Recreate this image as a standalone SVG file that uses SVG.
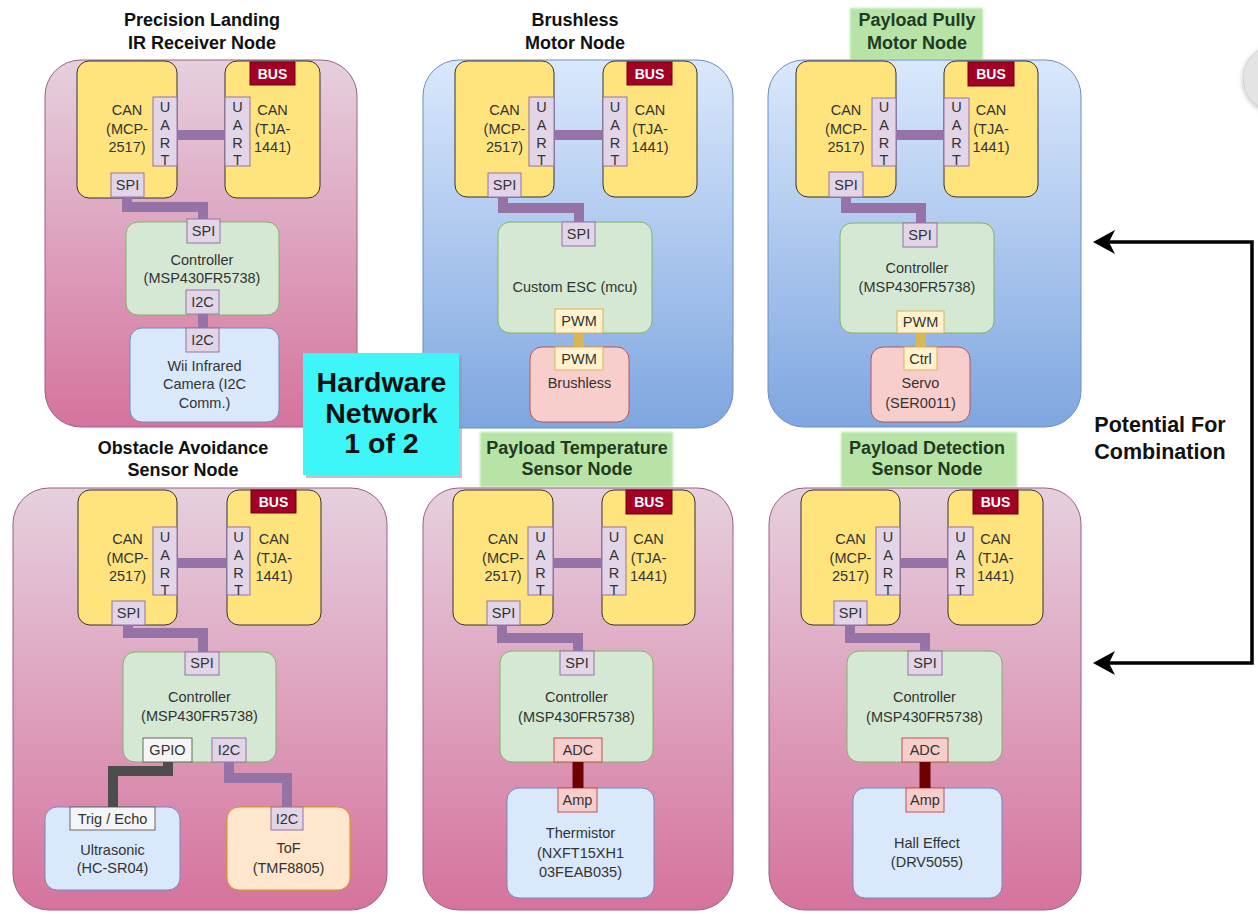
<svg xmlns="http://www.w3.org/2000/svg" width="1258" height="914" viewBox="0 0 1258 914">
  <defs>
    <linearGradient id="gPink" x1="0" y1="0" x2="0" y2="1">
      <stop offset="0" stop-color="#e6d0de"/>
      <stop offset="1" stop-color="#d5739d"/>
    </linearGradient>
    <linearGradient id="gBlue" x1="0" y1="0" x2="0" y2="1">
      <stop offset="0" stop-color="#dae8fc"/>
      <stop offset="1" stop-color="#7ea6e0"/>
    </linearGradient>
    <filter id="soft" x="-10%" y="-10%" width="120%" height="120%">
      <feGaussianBlur stdDeviation="1.2"/>
    </filter>
    <filter id="dropShadow" x="-30%" y="-30%" width="160%" height="160%">
      <feDropShadow dx="0" dy="2" stdDeviation="2.5" flood-color="#000" flood-opacity="0.25"/>
    </filter>
    <marker id="arrowHead" markerUnits="userSpaceOnUse" markerWidth="26" markerHeight="26" viewBox="0 0 26 26" refX="12" refY="13" orient="auto-start-reverse">
      <path d="M2,1 L24,13 L2,25 L8,13 Z" fill="#000"/>
    </marker>
    <style>
      .outerPink { fill: url(#gPink); stroke: #996185; stroke-width: 1; }
      .outerBlue { fill: url(#gBlue); stroke: #6c8ebf; stroke-width: 1; }
      .can { fill: #ffe47e; stroke: #333333; stroke-width: 1; }
      .port { fill: #e1d5e7; stroke: #9673a6; stroke-width: 1; }
      .ctl { fill: #d5e8d4; stroke: #82b366; stroke-width: 1; }
      .devBlue { fill: #dae8fc; stroke: #6c8ebf; stroke-width: 1; }
      .devRed { fill: #f8cecc; stroke: #b85450; stroke-width: 1; }
      .pwm { fill: #fff2cc; stroke: #d6b656; stroke-width: 1; }
      .gpio { fill: #f5f5f5; stroke: #666666; stroke-width: 1; }
      .tof { fill: #ffe6cc; stroke: #d79b00; stroke-width: 1; }
      .bus { fill: #a20025; stroke: #6f0000; stroke-width: 1; }
      .tagBg { fill: #b8e3a6; }
      text { font-family: "Liberation Sans", Arial, sans-serif; text-anchor: middle; }
      .lbl { font-size: 14.5px; fill: #333333; }
      .busTxt { font-size: 14px; font-weight: bold; fill: #ffffff; }
      .ttl { font-size: 18px; font-weight: bold; fill: #111111; }
      .ttlGreen { font-size: 18px; font-weight: bold; fill: #1f3a1f; }
      .wPurple { fill: none; stroke: #9673a6; stroke-width: 10; }
      .wGold { fill: none; stroke: #d6b656; stroke-width: 10; }
      .wRed { fill: none; stroke: #6f0000; stroke-width: 11; }
      .wGray { fill: none; stroke: #4d4d4d; stroke-width: 10; }
      .bigLink { fill: none; stroke: #000000; stroke-width: 3.5; }
    </style>
  </defs>

  <rect width="1258" height="914" fill="#ffffff"/>

  <!-- round button at the right edge -->
  <circle cx="1276" cy="78" r="33" fill="#e4e4e4" stroke="#d2d2d2" filter="url(#dropShadow)"/>

  <!-- ===== Precision Landing IR Receiver Node ===== -->
  <g id="node-precision-landing">
    <text class="ttl" x="202" y="26">Precision Landing</text>
    <text class="ttl" x="202" y="49">IR Receiver Node</text>
    <rect class="outerPink" x="45" y="60" width="312" height="367" rx="36"/>
    <rect class="can" x="77" y="61" width="100" height="137" rx="12"/>
    <text class="lbl" x="127" y="115">CAN</text>
    <text class="lbl" x="127" y="133.5">(MCP-</text>
    <text class="lbl" x="127" y="152">2517)</text>
    <rect class="can" x="225" y="61" width="95" height="137" rx="12"/>
    <text class="lbl" x="272.5" y="115">CAN</text>
    <text class="lbl" x="272.5" y="133.5">(TJA-</text>
    <text class="lbl" x="272.5" y="152">1441)</text>
    <rect class="bus" x="250" y="62" width="45" height="23"/>
    <text class="busTxt" x="272.5" y="79">BUS</text>
    <rect class="port" x="153" y="97" width="24" height="69"/>
    <text class="lbl" x="165" y="112">U</text><text class="lbl" x="165" y="130">A</text><text class="lbl" x="165" y="148">R</text><text class="lbl" x="165" y="165">T</text>
    <rect class="port" x="225" y="97" width="25" height="69"/>
    <text class="lbl" x="237.5" y="112">U</text><text class="lbl" x="237.5" y="130">A</text><text class="lbl" x="237.5" y="148">R</text><text class="lbl" x="237.5" y="165">T</text>
    <rect class="port" x="111" y="173" width="33" height="24"/>
    <text class="lbl" x="127.5" y="190">SPI</text>
    <rect class="ctl" x="126" y="222" width="153" height="93" rx="12"/>
    <rect class="port" x="187" y="219" width="33" height="24"/>
    <text class="lbl" x="203.5" y="236">SPI</text>
    <text class="lbl" x="202" y="265">Controller</text>
    <text class="lbl" x="202" y="283">(MSP430FR5738)</text>
    <rect class="port" x="186" y="290" width="33" height="24"/>
    <text class="lbl" x="202.5" y="307">I2C</text>
    <rect class="devBlue" x="130" y="328" width="149" height="94" rx="12"/>
    <rect class="port" x="186" y="328" width="33" height="24"/>
    <text class="lbl" x="202.5" y="345">I2C</text>
    <text class="lbl" x="204.5" y="371">Wii Infrared</text>
    <text class="lbl" x="204.5" y="389">Camera (I2C</text>
    <text class="lbl" x="204.5" y="408">Comm.)</text>
  </g>

  <!-- ===== Brushless Motor Node ===== -->
  <g id="node-brushless-motor">
    <text class="ttl" x="575" y="26">Brushless</text>
    <text class="ttl" x="575" y="49">Motor Node</text>
    <rect class="outerBlue" x="423" y="60" width="310" height="368" rx="36"/>
    <rect class="can" x="455" y="61" width="99" height="136" rx="12"/>
    <text class="lbl" x="504.5" y="115">CAN</text>
    <text class="lbl" x="504.5" y="133.5">(MCP-</text>
    <text class="lbl" x="504.5" y="152">2517)</text>
    <rect class="can" x="603" y="61" width="94" height="136" rx="12"/>
    <text class="lbl" x="650" y="115">CAN</text>
    <text class="lbl" x="650" y="133.5">(TJA-</text>
    <text class="lbl" x="650" y="152">1441)</text>
    <rect class="bus" x="627" y="62" width="45" height="23"/>
    <text class="busTxt" x="649.5" y="79">BUS</text>
    <rect class="port" x="529" y="97" width="25" height="69"/>
    <text class="lbl" x="541.5" y="112">U</text><text class="lbl" x="541.5" y="130">A</text><text class="lbl" x="541.5" y="148">R</text><text class="lbl" x="541.5" y="165">T</text>
    <rect class="port" x="603" y="97" width="24" height="69"/>
    <text class="lbl" x="615" y="112">U</text><text class="lbl" x="615" y="130">A</text><text class="lbl" x="615" y="148">R</text><text class="lbl" x="615" y="165">T</text>
    <rect class="port" x="488" y="173" width="33" height="24"/>
    <text class="lbl" x="504.5" y="190">SPI</text>
    <rect class="ctl" x="498" y="222" width="154" height="111" rx="12"/>
    <rect class="port" x="562" y="222" width="33" height="24"/>
    <text class="lbl" x="578.5" y="239">SPI</text>
    <text class="lbl" x="575" y="292">Custom ESC (mcu)</text>
    <rect class="pwm" x="555" y="309" width="48" height="24"/>
    <text class="lbl" x="579" y="326">PWM</text>
    <rect class="devRed" x="530" y="347" width="99" height="75" rx="12"/>
    <rect class="pwm" x="555" y="347" width="48" height="23"/>
    <text class="lbl" x="579" y="364">PWM</text>
    <text class="lbl" x="579.5" y="388">Brushless</text>
  </g>

  <!-- ===== Payload Pully Motor Node ===== -->
  <g id="node-payload-pully">
    <rect class="tagBg" x="850" y="8" width="133" height="52" filter="url(#soft)"/>
    <text class="ttlGreen" x="917" y="26">Payload Pully</text>
    <text class="ttlGreen" x="917" y="49">Motor Node</text>
    <rect class="outerBlue" x="768" y="60" width="313" height="367" rx="36"/>
    <rect class="can" x="796" y="61" width="100" height="136" rx="12"/>
    <text class="lbl" x="846" y="115">CAN</text>
    <text class="lbl" x="846" y="133.5">(MCP-</text>
    <text class="lbl" x="846" y="152">2517)</text>
    <rect class="can" x="944" y="61" width="94" height="136" rx="12"/>
    <text class="lbl" x="991" y="115">CAN</text>
    <text class="lbl" x="991" y="133.5">(TJA-</text>
    <text class="lbl" x="991" y="152">1441)</text>
    <rect class="bus" x="968" y="62" width="46" height="24"/>
    <text class="busTxt" x="991" y="79">BUS</text>
    <rect class="port" x="872" y="98" width="24" height="68"/>
    <text class="lbl" x="884" y="112">U</text><text class="lbl" x="884" y="130">A</text><text class="lbl" x="884" y="148">R</text><text class="lbl" x="884" y="165">T</text>
    <rect class="port" x="944" y="98" width="25" height="68"/>
    <text class="lbl" x="956.5" y="112">U</text><text class="lbl" x="956.5" y="130">A</text><text class="lbl" x="956.5" y="148">R</text><text class="lbl" x="956.5" y="165">T</text>
    <rect class="port" x="829" y="172" width="34" height="25"/>
    <text class="lbl" x="846" y="190">SPI</text>
    <rect class="ctl" x="840" y="223" width="154" height="110" rx="12"/>
    <rect class="port" x="903" y="223" width="34" height="24"/>
    <text class="lbl" x="920" y="240">SPI</text>
    <text class="lbl" x="917" y="273">Controller</text>
    <text class="lbl" x="917" y="292">(MSP430FR5738)</text>
    <rect class="pwm" x="897" y="311" width="47" height="22"/>
    <text class="lbl" x="920.5" y="327">PWM</text>
    <rect class="devRed" x="871" y="347" width="99" height="75" rx="12"/>
    <rect class="pwm" x="904" y="347" width="33" height="23"/>
    <text class="lbl" x="920.5" y="364">Ctrl</text>
    <text class="lbl" x="920.5" y="388">Servo</text>
    <text class="lbl" x="920.5" y="408">(SER0011)</text>
  </g>

  <!-- ===== Obstacle Avoidance Sensor Node ===== -->
  <g id="node-obstacle-avoidance">
    <text class="ttl" x="183" y="454">Obstacle Avoidance</text>
    <text class="ttl" x="183" y="476">Sensor Node</text>
    <rect class="outerPink" x="13" y="488" width="374" height="422" rx="36"/>
    <rect class="can" x="78" y="490" width="99" height="135" rx="12"/>
    <text class="lbl" x="127.5" y="544">CAN</text>
    <text class="lbl" x="127.5" y="562.5">(MCP-</text>
    <text class="lbl" x="127.5" y="581">2517)</text>
    <rect class="can" x="227" y="490" width="94" height="135" rx="12"/>
    <text class="lbl" x="274" y="544">CAN</text>
    <text class="lbl" x="274" y="562.5">(TJA-</text>
    <text class="lbl" x="274" y="581">1441)</text>
    <rect class="bus" x="251" y="490" width="45" height="23"/>
    <text class="busTxt" x="273.5" y="507">BUS</text>
    <rect class="port" x="153" y="527" width="24" height="68"/>
    <text class="lbl" x="165" y="542">U</text><text class="lbl" x="165" y="560">A</text><text class="lbl" x="165" y="578">R</text><text class="lbl" x="165" y="595">T</text>
    <rect class="port" x="227" y="527" width="23" height="68"/>
    <text class="lbl" x="238.5" y="542">U</text><text class="lbl" x="238.5" y="560">A</text><text class="lbl" x="238.5" y="578">R</text><text class="lbl" x="238.5" y="595">T</text>
    <rect class="port" x="112" y="601" width="33" height="24"/>
    <text class="lbl" x="128.5" y="618">SPI</text>
    <rect class="ctl" x="123" y="652" width="153" height="110" rx="12"/>
    <rect class="port" x="185" y="652" width="34" height="23"/>
    <text class="lbl" x="202" y="668">SPI</text>
    <text class="lbl" x="199.5" y="702">Controller</text>
    <text class="lbl" x="199.5" y="721">(MSP430FR5738)</text>
    <rect class="gpio" x="143" y="738" width="49" height="24"/>
    <text class="lbl" x="167.5" y="755">GPIO</text>
    <rect class="port" x="212" y="738" width="34" height="24"/>
    <text class="lbl" x="229" y="755">I2C</text>
    <rect class="devBlue" x="45" y="807" width="135" height="83" rx="12"/>
    <rect class="gpio" x="70" y="807" width="85" height="23"/>
    <text class="lbl" x="112.5" y="824">Trig / Echo</text>
    <text class="lbl" x="112.5" y="855">Ultrasonic</text>
    <text class="lbl" x="112.5" y="873">(HC-SR04)</text>
    <rect class="tof" x="227" y="807" width="123" height="83" rx="12"/>
    <rect class="port" x="271" y="807" width="32" height="23"/>
    <text class="lbl" x="287" y="824">I2C</text>
    <text class="lbl" x="288.5" y="853">ToF</text>
    <text class="lbl" x="288.5" y="873">(TMF8805)</text>
  </g>

  <!-- ===== Payload Temperature Sensor Node ===== -->
  <g id="node-payload-temperature">
    <rect class="tagBg" x="480" y="432" width="193" height="55" filter="url(#soft)"/>
    <text class="ttlGreen" x="577" y="454">Payload Temperature</text>
    <text class="ttlGreen" x="577" y="475">Sensor Node</text>
    <rect class="outerPink" x="423" y="488" width="310" height="422" rx="36"/>
    <rect class="can" x="453" y="490" width="100" height="135" rx="12"/>
    <text class="lbl" x="503" y="544">CAN</text>
    <text class="lbl" x="503" y="562.5">(MCP-</text>
    <text class="lbl" x="503" y="581">2517)</text>
    <rect class="can" x="602" y="490" width="93" height="135" rx="12"/>
    <text class="lbl" x="648.5" y="544">CAN</text>
    <text class="lbl" x="648.5" y="562.5">(TJA-</text>
    <text class="lbl" x="648.5" y="581">1441)</text>
    <rect class="bus" x="626" y="490" width="46" height="24"/>
    <text class="busTxt" x="649" y="507">BUS</text>
    <rect class="port" x="528" y="527" width="25" height="68"/>
    <text class="lbl" x="540.5" y="542">U</text><text class="lbl" x="540.5" y="560">A</text><text class="lbl" x="540.5" y="578">R</text><text class="lbl" x="540.5" y="595">T</text>
    <rect class="port" x="602" y="527" width="24" height="68"/>
    <text class="lbl" x="614" y="542">U</text><text class="lbl" x="614" y="560">A</text><text class="lbl" x="614" y="578">R</text><text class="lbl" x="614" y="595">T</text>
    <rect class="port" x="487" y="601" width="33" height="24"/>
    <text class="lbl" x="503.5" y="618">SPI</text>
    <rect class="ctl" x="500" y="651" width="153" height="111" rx="12"/>
    <rect class="port" x="560" y="651" width="34" height="24"/>
    <text class="lbl" x="577" y="668">SPI</text>
    <text class="lbl" x="576.5" y="702">Controller</text>
    <text class="lbl" x="576.5" y="722">(MSP430FR5738)</text>
    <rect class="devRed" x="554" y="738" width="48" height="24"/>
    <text class="lbl" x="578" y="755">ADC</text>
    <rect class="devBlue" x="507" y="788" width="147" height="110" rx="12"/>
    <rect class="devRed" x="558" y="788" width="39" height="24"/>
    <text class="lbl" x="577.5" y="805">Amp</text>
    <text class="lbl" x="580.5" y="838">Thermistor</text>
    <text class="lbl" x="580.5" y="858">(NXFT15XH1</text>
    <text class="lbl" x="580.5" y="877">03FEAB035)</text>
  </g>

  <!-- ===== Payload Detection Sensor Node ===== -->
  <g id="node-payload-detection">
    <rect class="tagBg" x="841" y="432" width="176" height="55" filter="url(#soft)"/>
    <text class="ttlGreen" x="927" y="454">Payload Detection</text>
    <text class="ttlGreen" x="927" y="475">Sensor Node</text>
    <rect class="outerPink" x="769" y="488" width="312" height="422" rx="36"/>
    <rect class="can" x="801" y="490" width="99" height="135" rx="12"/>
    <text class="lbl" x="850.5" y="544">CAN</text>
    <text class="lbl" x="850.5" y="562.5">(MCP-</text>
    <text class="lbl" x="850.5" y="581">2517)</text>
    <rect class="can" x="948" y="490" width="95" height="135" rx="12"/>
    <text class="lbl" x="995.5" y="544">CAN</text>
    <text class="lbl" x="995.5" y="562.5">(TJA-</text>
    <text class="lbl" x="995.5" y="581">1441)</text>
    <rect class="bus" x="973" y="490" width="45" height="24"/>
    <text class="busTxt" x="995.5" y="507">BUS</text>
    <rect class="port" x="876" y="527" width="24" height="68"/>
    <text class="lbl" x="888" y="542">U</text><text class="lbl" x="888" y="560">A</text><text class="lbl" x="888" y="578">R</text><text class="lbl" x="888" y="595">T</text>
    <rect class="port" x="948" y="527" width="25" height="68"/>
    <text class="lbl" x="960.5" y="542">U</text><text class="lbl" x="960.5" y="560">A</text><text class="lbl" x="960.5" y="578">R</text><text class="lbl" x="960.5" y="595">T</text>
    <rect class="port" x="834" y="601" width="33" height="24"/>
    <text class="lbl" x="850.5" y="618">SPI</text>
    <rect class="ctl" x="847" y="651" width="155" height="111" rx="12"/>
    <rect class="port" x="908" y="651" width="34" height="24"/>
    <text class="lbl" x="925" y="668">SPI</text>
    <text class="lbl" x="924.5" y="702">Controller</text>
    <text class="lbl" x="924.5" y="722">(MSP430FR5738)</text>
    <rect class="devRed" x="902" y="738" width="46" height="24"/>
    <text class="lbl" x="925" y="755">ADC</text>
    <rect class="devBlue" x="853" y="788" width="149" height="110" rx="12"/>
    <rect class="devRed" x="906" y="788" width="38" height="24"/>
    <text class="lbl" x="925" y="805">Amp</text>
    <text class="lbl" x="927" y="848">Hall Effect</text>
    <text class="lbl" x="927" y="867">(DRV5055)</text>
  </g>

  <!-- ===== Title badge ===== -->
  <g id="badge-hardware-network">
    <rect x="306" y="356" width="156" height="122" fill="#9a9a9a" opacity="0.6"/>
    <rect x="303" y="353" width="156" height="122" fill="#3ef5f8"/>
    <text x="381.5" y="392" font-size="28.5" font-weight="bold" fill="#111111">Hardware</text>
    <text x="381.5" y="423" font-size="28.5" font-weight="bold" fill="#111111">Network</text>
    <text x="381.5" y="453" font-size="28.5" font-weight="bold" fill="#111111">1 of 2</text>
  </g>

  <!-- ===== Combination note ===== -->
  <g id="note-combination">
    <text x="1160" y="432" font-size="21.5" font-weight="bold" fill="#111111">Potential For</text>
    <text x="1160" y="459" font-size="21.5" font-weight="bold" fill="#111111">Combination</text>
  </g>

  <!-- ===== Connectors ===== -->
  <g id="connectors">
    <!-- UART links between the two CAN chips -->
    <path class="wPurple" d="M177 135 H225"/>
    <path class="wPurple" d="M554 135 H603"/>
    <path class="wPurple" d="M896 135 H944"/>
    <path class="wPurple" d="M177 563 H227"/>
    <path class="wPurple" d="M553 563 H602"/>
    <path class="wPurple" d="M900 563 H948"/>
    <!-- SPI links from CAN controller to MCU -->
    <path class="wPurple" d="M127 197 V207 H203 V219"/>
    <path class="wPurple" d="M503 197 V208 H579 V222"/>
    <path class="wPurple" d="M846 197 V208 H921 V223"/>
    <path class="wPurple" d="M128 625 V633 H203 V652"/>
    <path class="wPurple" d="M502 625 V638 H578 V651"/>
    <path class="wPurple" d="M850 625 V638 H925 V651"/>
    <!-- peripheral links -->
    <path class="wPurple" d="M203 314 V328"/>
    <path class="wGold" d="M579 333 V347"/>
    <path class="wGold" d="M921 333 V347"/>
    <path class="wGray" d="M168 762 V771 H113 V807"/>
    <path class="wPurple" d="M229 762 V778 H287 V807"/>
    <path class="wRed" d="M578 762 V788"/>
    <path class="wRed" d="M925 762 V788"/>
    <!-- combination bracket -->
    <path class="bigLink" d="M1105 242 H1252 V663 H1105" marker-start="url(#arrowHead)" marker-end="url(#arrowHead)"/>
  </g>
</svg>
